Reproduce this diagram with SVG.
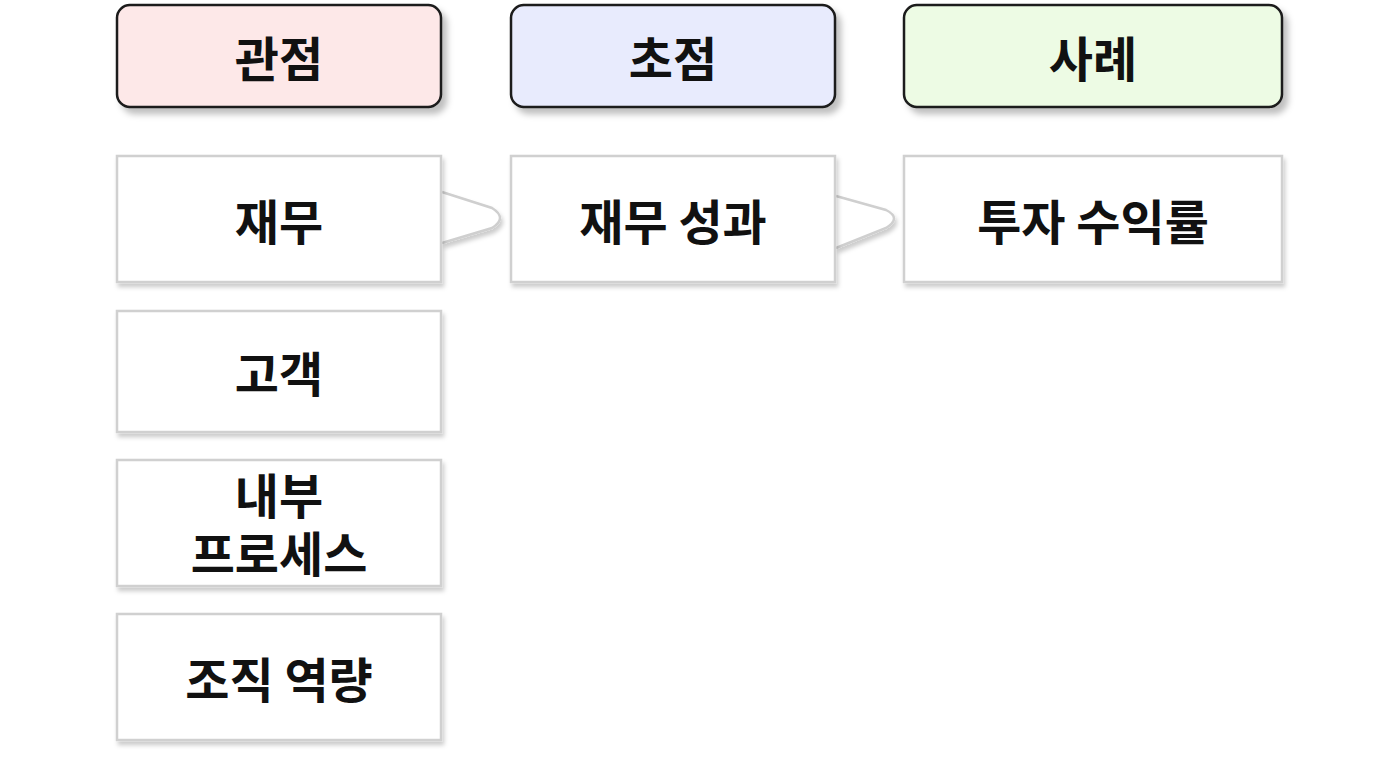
<svg xmlns="http://www.w3.org/2000/svg" width="1376" height="768" viewBox="0 0 1376 768">
<defs>
<filter id="sh" x="-10%" y="-10%" width="130%" height="140%"><feDropShadow dx="5" dy="6" stdDeviation="3" flood-color="#000" flood-opacity="0.25"/></filter>
<filter id="sh2" x="-10%" y="-10%" width="130%" height="140%"><feDropShadow dx="2" dy="4" stdDeviation="2" flood-color="#000" flood-opacity="0.2"/></filter>
</defs>
<style>
.h{stroke:#1a1a1a;stroke-width:2.5;filter:url(#sh)}
.b{fill:#fff;stroke:#d0d0d0;stroke-width:2.5;filter:url(#sh2)}
.c{fill:#fff;stroke:#cfcfcf;stroke-width:2.5;filter:url(#sh2)}
text{font-family:"Noto Sans CJK KR","Liberation Sans",sans-serif;font-weight:bold;font-size:48px;fill:#111;text-anchor:middle;dominant-baseline:central}
</style>
<rect width="1376" height="768" fill="#fff"/>
<g id="connectors">
<path class="c" d="M442,192 L492,208 Q508,218 492,228 L442,243"/>
<path class="c" d="M836,196 L886,210 Q902,218 886,228 L836,248"/>
</g>
<g id="h1"><rect class="h" x="117" y="5" width="324" height="102" rx="13" fill="#fde8e8"/><text x="279" y="56">관점</text></g>
<g id="h2"><rect class="h" x="511" y="5" width="324" height="102" rx="13" fill="#e8ebfd"/><text x="673" y="56">초점</text></g>
<g id="h3"><rect class="h" x="904" y="5" width="378" height="102" rx="13" fill="#edfbe4"/><text x="1093" y="56">사례</text></g>
<g id="n1"><rect class="b" x="117" y="156" width="324" height="126"/><text x="279" y="219">재무</text></g>
<g id="n2"><rect class="b" x="117" y="311" width="324" height="121"/><text x="279" y="371">고객</text></g>
<g id="n3"><rect class="b" x="117" y="460" width="324" height="126"/><text x="279" y="493">내부</text><text x="279" y="551">프로세스</text></g>
<g id="n4"><rect class="b" x="117" y="614" width="324" height="126"/><text x="279" y="677">조직 역량</text></g>
<g id="n5"><rect class="b" x="511" y="156" width="324" height="126"/><text x="673" y="219">재무 성과</text></g>
<g id="n6"><rect class="b" x="904" y="156" width="378" height="126"/><text x="1093" y="219">투자 수익률</text></g>
</svg>
